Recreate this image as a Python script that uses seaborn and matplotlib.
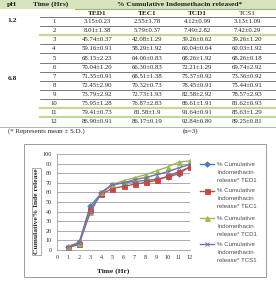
import matplotlib
matplotlib.use("Agg")
import matplotlib.pyplot as plt
from matplotlib.lines import Line2D
from matplotlib.patches import Rectangle
import seaborn as sns
import pandas as pd

# ---------------- data ----------------
times = [1, 2, 3, 4, 5, 6, 7, 8, 9, 10, 11, 12]
series_names = ["TED1", "TEC1", "TCD1", "TCS1"]
ted1 = [3.15, 8.01, 45.74, 59.16, 68.15, 70.04, 71.35, 72.45, 73.79, 75.95, 79.41, 86.90]
tec1 = [2.55, 5.79, 42.08, 58.29, 64.06, 66.30, 68.51, 70.32, 72.73, 76.87, 81.58, 86.17]
tcd1 = [4.12, 7.49, 39.26, 60.04, 68.26, 72.21, 75.37, 78.45, 82.58, 86.61, 91.64, 92.84]
tcs1 = [3.13, 7.42, 39.26, 60.03, 68.26, 69.74, 73.36, 75.44, 78.57, 81.62, 85.63, 89.25]
ted1_sd = ["0.23", "1.38", "0.37", "0.91", "2.23", "1.20", "0.91", "2.90", "2.92", "1.28", "0.73", "0.91"]
tec1_sd = ["1.78", "0.37", "1.29", "1.92", "0.83", "0.83", "1.38", "0.73", "1.93", "2.83", "1.9", "0.19"]
tcd1_sd = ["0.99", "2.82", "0.62", "0.64", "1.92", "1.29", "0.92", "0.91", "2.92", "1.91", "0.91", "0.80"]
tcs1_sd = ["1.09", "0.29", "1.20", "1.92", "0.18", "2.92", "0.92", "0.91", "2.93", "0.93", "1.29", "0.81"]
ph_labels = ["1.2", "6.8"]
x_ticks = list(range(0, 13))
y_ticks = list(range(0, 101, 10))

means = [ted1, tec1, tcd1, tcs1]
sds = [ted1_sd, tec1_sd, tcd1_sd, tcs1_sd]

# ---------------- figure ----------------
W, H = 276, 282
fig = plt.figure(figsize=(W / 100, H / 100), dpi=100)
fig.patch.set_facecolor("white")

def fx(x):
    return x / W

def fy(y):
    return 1 - y / H

SERIF = ["Liberation Serif", "DejaVu Serif"]
txtc = "#222222"

def ftext(x, y, s, **kw):
    kw.setdefault("family", SERIF)
    kw.setdefault("fontsize", 4.9)
    kw.setdefault("color", txtc)
    kw.setdefault("va", "center")
    fig.text(fx(x), fy(y), s, **kw)

def hline(x0, x1, y, color="#555555", lw=0.5):
    fig.add_artist(Line2D([fx(x0), fx(x1)], [fy(y), fy(y)], transform=fig.transFigure,
                          color=color, lw=lw))

# header fill
fig.add_artist(Rectangle((0, fy(9)), 1, 9 / H, transform=fig.transFigure,
                         facecolor="#d6e3bc", edgecolor="none", zorder=0))
ftext(12, 4.5, "pH", ha="center", fontweight="bold", fontsize=5.4)
ftext(51, 4.5, "Time (Hrs)", ha="center", fontweight="bold", fontsize=5.4)
ftext(180, 4.5, "% Cumulative Indomethacin released*", ha="center", fontweight="bold", fontsize=5.4)
hline(75, 276, 9.3, color="#9bbb59", lw=0.8)

col_x = [97, 147, 197, 247]
for cx, name in zip(col_x, series_names):
    ftext(cx, 13.3, name, ha="center", fontweight="bold" if name != "TCS1" else "normal", fontsize=5.2)
hline(40, 276, 17.3, color="#444444", lw=0.5)

row0, dy = 21.6, 9.1
row_y = [row0 + i * dy for i in range(len(times))]
for i, t in enumerate(times):
    y = row_y[i]
    ftext(54, y, str(t), ha="center")
    for cx, m, s in zip(col_x, means, sds):
        ftext(cx, y, f"{m[i]:.2f}\u00b1{s[i]}", ha="center")
    yl = y + dy / 2
    if i in (1, 9, 10):
        hline(40, 276, yl, color="#c3d69b", lw=1.6)
    elif i == 11:
        pass
    else:
        hline(40, 276, yl, color="#444444", lw=0.5)
hline(0, 276, row_y[-1] + dy / 2 + 0.3, color="#9bbb59", lw=0.6)

ftext(12, row_y[0] - 1.5, ph_labels[0], ha="center", fontweight="bold", fontsize=5.4)
ftext(12, 79, ph_labels[1], ha="center", fontweight="bold", fontsize=5.4)

ftext(8, 131, "(* Represents mean \u00b1 S.D.)", ha="left", fontsize=5.0)
ftext(183, 131, "(n=3)", ha="left", fontsize=5.0)

# chart outer frame
fig.add_artist(Rectangle((fx(24), fy(277)), (266 - 24) / W, (277 - 144) / H,
                         transform=fig.transFigure, facecolor="none",
                         edgecolor="#8c8c8c", lw=0.6))

# ---------------- chart ----------------
rows = []
for name, vals in zip(series_names, means):
    for t, v in zip(times, vals):
        rows.append({"time": t, "value": v, "series": name})
df = pd.DataFrame(rows)

left, right, top, bottom = 57, 190, 154, 250
ax = fig.add_axes([fx(left), fy(bottom), (right - left) / W, (bottom - top) / H])
palette = {"TED1": "#4a7ebb", "TEC1": "#be4b48", "TCD1": "#98b954", "TCS1": "#7d6ba8"}
markers = {"TED1": "D", "TEC1": "s", "TCD1": "^", "TCS1": "x"}
msizes = {"TED1": 2.8, "TEC1": 3.6, "TCD1": 3.6, "TCS1": 3.4}
for name in series_names:
    sub = df[df["series"] == name]
    sns.lineplot(data=sub, x="time", y="value", ax=ax, color=palette[name],
                 marker=markers[name], markersize=msizes[name], lw=1.0,
                 markeredgewidth=0.6, markeredgecolor=palette[name], label=name)

ax.set_xlim(0, 12)
ax.set_ylim(0, 100)
ax.set_xticks(x_ticks)
ax.set_yticks(y_ticks)
ax.set_xticklabels([str(v) for v in x_ticks], family=SERIF, fontsize=4.5, color="#333333")
ax.set_yticklabels([str(v) for v in y_ticks], family=SERIF, fontsize=4.5, color="#333333")
ax.tick_params(axis="both", length=0, pad=3.5)
ax.grid(axis="y", color="#8c8c8c", lw=0.5)
ax.set_axisbelow(True)
for sp in ["top", "right"]:
    ax.spines[sp].set_visible(False)
for sp in ["left", "bottom"]:
    ax.spines[sp].set_color("#8c8c8c")
    ax.spines[sp].set_linewidth(0.5)
ax.set_xlabel("")
ax.set_ylabel("")
ax.get_legend().remove()

ftext(113, 271, "Time (Hr)", ha="center", fontweight="bold", fontsize=5.4)
# y label box
fig.add_artist(Rectangle((fx(32), fy(255)), 8.5 / W, (255 - 168) / H,
                         transform=fig.transFigure, facecolor="white",
                         edgecolor="#8c8c8c", lw=0.5))
ftext(36.3, 211, "Cumulative% Inde release", ha="center", rotation=90,
      fontweight="bold", fontsize=5.4)

# legend
leg_y = [164, 191, 218, 244]
for name, ly in zip(series_names, leg_y):
    fig.add_artist(Line2D([fx(200), fx(214)], [fy(ly), fy(ly)], transform=fig.transFigure,
                          color=palette[name], lw=1.0))
    fig.add_artist(Line2D([fx(207)], [fy(ly)], transform=fig.transFigure,
                          color=palette[name], lw=0, marker=markers[name],
                          markersize=msizes[name], markeredgewidth=0.6,
                          markeredgecolor=palette[name]))
    for k, s in enumerate(["% Cumulative", "Indomethacin", f"release* {name}"]):
        fig.text(fx(217), fy(ly + k * 8), s, family=["Liberation Sans", "DejaVu Sans"],
                 fontsize=4.4, color="#4d4d4d", va="center", ha="left")

fig.savefig("out.png", dpi=100)
